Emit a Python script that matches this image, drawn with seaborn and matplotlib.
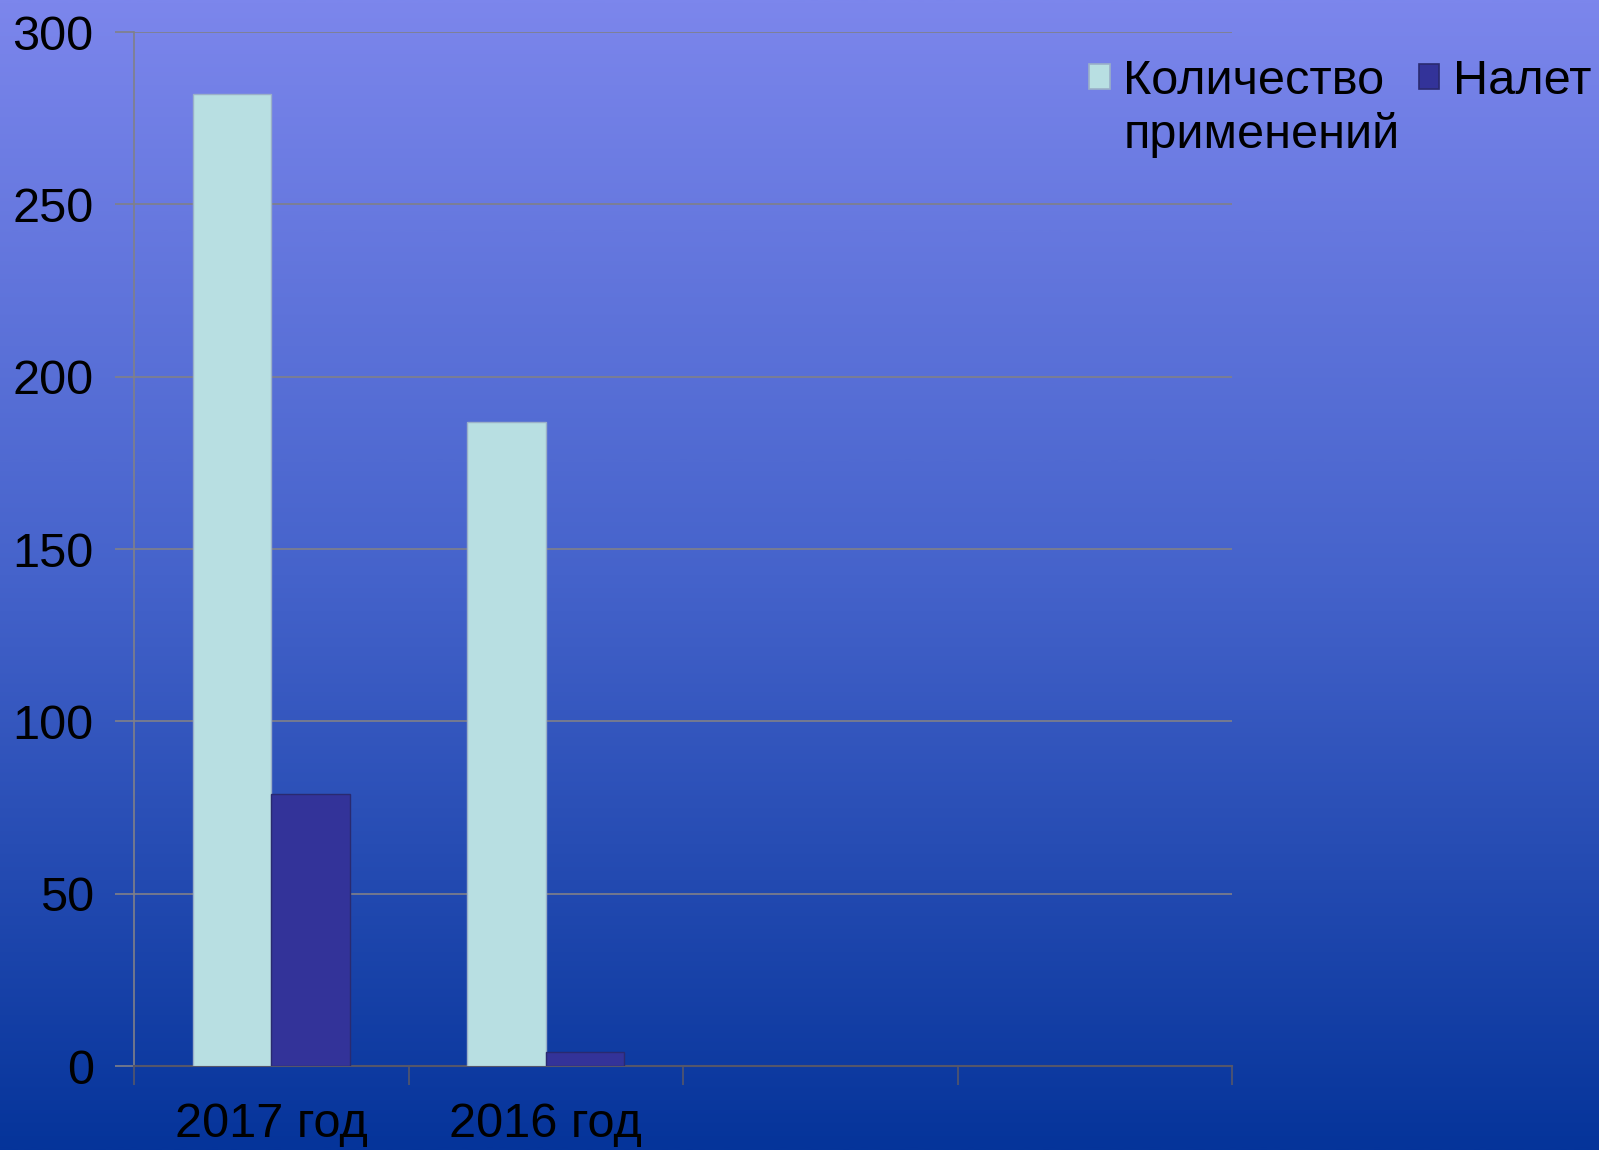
import numpy as np
import pandas as pd
import matplotlib.pyplot as plt
from matplotlib.colors import LinearSegmentedColormap
import seaborn as sns

# categories (the two trailing slots are empty in the original chart)
CATEGORIES = ["2017 год", "2016 год", " ", "  "]
SERIES = ["Количество", "Налет"]
SERIES_SECOND_LINE = "применений"   # second line of the first legend label
COUNT_VALUES = [282, 187]      # Количество применений
FLIGHT_VALUES = [79, 4]        # Налет
Y_TICKS = [0, 50, 100, 150, 200, 250, 300]

BAR_COLORS = {SERIES[0]: "#B8DFE2", SERIES[1]: "#333399"}
EDGE_COLORS = {SERIES[0]: "#9AB0C8", SERIES[1]: "#2A2A70"}
BG_STOPS = ["#7C86EC", "#4563CB", "#05349A"]
GRID_COLOR = "#808088"
FONT_SIZE = 35

sns.set_style("white")
plt.rcParams["font.family"] = ["Liberation Sans", "DejaVu Sans"]
plt.rcParams["text.color"] = "black"
plt.rcParams["xtick.color"] = "black"
plt.rcParams["ytick.color"] = "black"

df = pd.DataFrame({
    "category": CATEGORIES[:2] * 2,
    "series": [SERIES[0]] * 2 + [SERIES[1]] * 2,
    "value": COUNT_VALUES + FLIGHT_VALUES,
})

fig = plt.figure(figsize=(15.99, 11.5), dpi=100)

# gradient background over the whole figure
bg = fig.add_axes([0, 0, 1, 1], zorder=0)
grad = np.linspace(0, 1, 512).reshape(-1, 1)
bg.imshow(grad, aspect="auto", cmap=LinearSegmentedColormap.from_list("bg", BG_STOPS),
          extent=[0, 1, 0, 1])
bg.set_axis_off()

ax = fig.add_axes([0.0838, 0.0730, 0.6867, 0.8991], zorder=1)
ax.patch.set_alpha(0)

sns.barplot(ax=ax, data=df, x="category", y="value", hue="series",
            order=CATEGORIES, hue_order=SERIES, palette=BAR_COLORS,
            width=0.571, saturation=1, linewidth=1.0, zorder=3)

for cont, name in zip(ax.containers, SERIES):
    for p in cont.patches:
        p.set_edgecolor(EDGE_COLORS[name])

ax.set_xlim(-0.5, len(CATEGORIES) - 0.5)
ax.set_ylim(0, 300)
ax.set_yticks(Y_TICKS)
ax.set_xlabel("")
ax.set_ylabel("")

# major x ticks at the category borders, labels on minor ticks at centres
ax.set_xticks(np.arange(len(CATEGORIES) + 1) - 0.5)
ax.set_xticklabels([])
ax.set_xticks(np.arange(len(CATEGORIES)), minor=True)
ax.set_xticklabels(CATEGORIES, minor=True)
ax.tick_params(axis="x", which="minor", length=0, pad=26, labelsize=FONT_SIZE)
ax.tick_params(axis="x", which="major", direction="out", length=14, width=1.2,
               color="#55566A", bottom=True)
ax.tick_params(axis="y", direction="out", length=14, width=1.2, color=GRID_COLOR,
               left=True, pad=15, labelsize=FONT_SIZE)

ax.yaxis.grid(True, color=GRID_COLOR, linewidth=1.2, zorder=0)
ax.set_axisbelow(True)
for side in ["top", "right"]:
    ax.spines[side].set_visible(False)
ax.spines["left"].set_color(GRID_COLOR)
ax.spines["left"].set_linewidth(1.2)
ax.spines["bottom"].set_color("#55566A")
ax.spines["bottom"].set_linewidth(1.5)

sns.move_legend(ax, "upper left", bbox_to_anchor=(0.681, 0.949),
                bbox_transform=fig.transFigure, ncol=2, title=None, frameon=False,
                fontsize=FONT_SIZE, borderpad=0, borderaxespad=0, handlelength=0.43,
                handleheight=0.43, handletextpad=0.28, columnspacing=0.7)
leg = ax.get_legend()
for h, name in zip(leg.legend_handles, SERIES):
    h.set_edgecolor(EDGE_COLORS[name])
    h.set_linewidth(1.2)

# second line of the first legend label, placed under its first line
fig.canvas.draw()
first = leg.get_texts()[0].get_window_extent()
x0, y0 = fig.transFigure.inverted().transform((first.x0, first.y0))
fig.text(x0, y0 - 0.047, SERIES_SECOND_LINE, fontsize=FONT_SIZE, ha="left", va="bottom")

fig.savefig("out.png", dpi=100)
